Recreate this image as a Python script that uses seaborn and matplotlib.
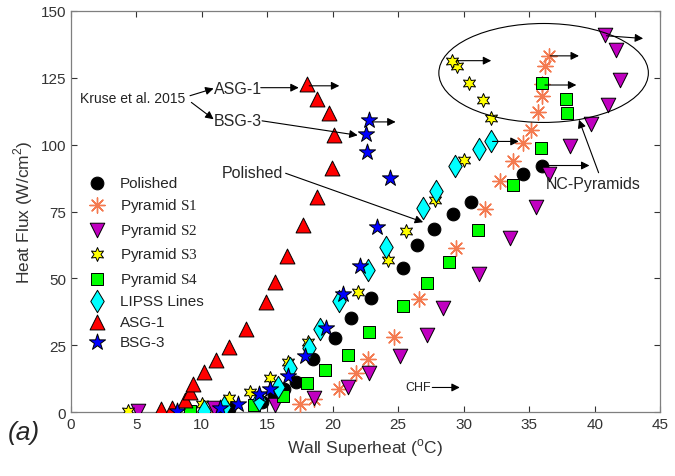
import numpy as np
import matplotlib
matplotlib.use('Agg')
import matplotlib.pyplot as plt
import seaborn as sns
from matplotlib.patches import Ellipse

# data (wall superheat in C, heat flux in W/cm2)
polished_x = [12.1, 14.6, 15.5, 16.3, 17.2, 18.5, 20.2, 21.4, 22.9, 25.4, 26.45, 27.75, 29.16, 30.56, 34.5, 36.0]
polished_y = [1.1, 3.6, 6.1, 8.6, 11.1, 19.8, 27.6, 35.2, 42.5, 53.9, 62.5, 68.5, 74.1, 78.4, 89.0, 92.2]

s1_x = [10.9, 17.5, 18.6, 20.5, 21.8, 22.7, 24.7, 26.6, 29.4, 31.6, 32.8, 33.8, 34.5, 35.1, 35.7, 36.0, 36.0, 36.2, 36.5]
s1_y = [0.2, 3.0, 4.9, 8.6, 14.5, 19.8, 27.9, 42.3, 61.4, 75.9, 86.3, 93.8, 100.6, 105.6, 112.3, 118.2, 122.5, 129.3, 133.3]

s2_x = [5.1, 10.9, 15.6, 18.6, 21.2, 22.8, 25.1, 27.2, 28.4, 31.2, 33.5, 35.5, 36.5, 38.1, 39.7, 41.0, 41.9, 41.6, 40.8]
s2_y = [0.3, 1.4, 2.8, 5.3, 9.2, 14.5, 20.8, 28.9, 38.8, 51.6, 65.0, 76.6, 89.0, 99.5, 107.6, 114.7, 124.0, 135.3, 141.1]

s3_x = [4.4, 10.0, 12.1, 13.7, 15.2, 16.55, 18.1, 21.9, 24.2, 25.6, 27.8, 30.0, 32.1, 31.5, 30.4, 29.5, 29.1]
s3_y = [0.5, 3.0, 5.1, 7.6, 12.6, 18.8, 26.1, 45.0, 56.9, 67.8, 79.4, 94.4, 110.1, 116.7, 122.9, 129.3, 131.4]

s4_x = [9.1, 14.0, 16.2, 18.0, 19.4, 21.2, 22.8, 25.4, 27.2, 28.9, 31.1, 33.8, 35.9, 37.9, 37.8, 36.0]
s4_y = [0.5, 2.8, 5.9, 10.8, 15.6, 21.4, 30.1, 39.5, 48.3, 56.2, 68.1, 84.9, 98.7, 112.0, 117.0, 122.9]

lipss_x = [10.2, 11.7, 14.4, 15.8, 16.7, 18.2, 19.0, 20.5, 22.7, 24.1, 26.9, 27.9, 29.3, 31.2, 32.1]
lipss_y = [0.5, 2.0, 4.5, 9.2, 16.4, 23.8, 31.0, 41.5, 53.2, 61.6, 76.2, 82.6, 92.0, 98.2, 101.5]

asg_x = [6.9, 7.7, 8.7, 9.1, 9.35, 10.2, 11.1, 12.1, 13.4, 14.9, 15.6, 16.5, 17.7, 18.8, 19.96, 20.1, 19.7, 18.8, 18.0]
asg_y = [1.1, 1.5, 4.6, 7.4, 10.5, 15.0, 19.6, 24.3, 31.0, 41.0, 48.7, 58.5, 69.8, 80.6, 91.3, 103.6, 111.8, 117.2, 122.5]

bsg_x = [8.1, 11.4, 12.8, 14.4, 15.2, 16.55, 17.9, 19.5, 20.8, 22.1, 23.35, 24.4, 22.6, 22.5, 22.8]
bsg_y = [0.3, 1.7, 3.2, 6.9, 8.7, 13.4, 21.1, 31.4, 44.2, 54.7, 69.3, 87.4, 97.2, 104.0, 109.3]

sns.set_style('ticks')
plt.rcParams['font.family'] = ['Liberation Sans', 'DejaVu Sans']
plt.rcParams['mathtext.fontset'] = 'custom'
plt.rcParams['mathtext.rm'] = 'Liberation Serif'
plt.rcParams['mathtext.sf'] = 'Liberation Sans'

fig = plt.figure(figsize=(6.75, 4.77), dpi=100)
ax = fig.add_axes([0.105, 0.134, 0.873, 0.841])

series = [
    (polished_x, polished_y, 'Polished', 'o', 'black', 85),
    (s1_x, s1_y, r'Pyramid $\mathrm{S1}$', (8, 2, 0), '#F47A50', 120),
    (s2_x, s2_y, r'Pyramid $\mathrm{S2}$', 'v', '#C000C0', 110),
    (s3_x, s3_y, r'Pyramid $\mathrm{S3}$', (6, 1, 0), '#FFFF00', 100),
    (s4_x, s4_y, r'Pyramid $\mathrm{S4}$', 's', '#00FF00', 65),
    (lipss_x, lipss_y, 'LIPSS Lines', 'd', '#00FFFF', 130),
    (asg_x, asg_y, 'ASG-1', '^', '#FF0000', 115),
    (bsg_x, bsg_y, 'BSG-3', '*', '#0000FF', 150),
]

for xs, ys, lab, mk, col, sz in series:
    if mk == (8, 2, 0):
        sns.scatterplot(x=xs, y=ys, ax=ax, marker=mk, color=col, s=sz, linewidth=1.0, label=lab, zorder=3)
    else:
        sns.scatterplot(x=xs, y=ys, ax=ax, marker=mk, color=col, s=sz, edgecolor='black', linewidth=0.7, label=lab, zorder=3)

ax.set_xlim(0, 45)
ax.set_ylim(0, 150)
ax.set_xticks(np.arange(0, 46, 5))
ax.set_yticks(np.arange(0, 151, 25))
ax.tick_params(direction='in', top=True, right=True, labelsize=11, colors='#333333', length=4)
for sp in ax.spines.values():
    sp.set_visible(True)
    sp.set_color('#7f7f7f')
    sp.set_linewidth(0.9)
ax.set_xlabel(r'Wall Superheat ($^{\mathsf{o}}$C)', fontsize=12.5, color='#333333')
ax.set_ylabel(r'Heat Flux (W/cm$^{\mathsf{2}}$)', fontsize=12.5, color='#333333')

ax.legend(loc='upper left', bbox_to_anchor=(0.0, 0.615), frameon=False, fontsize=11,
          handletextpad=0.5, labelspacing=0.42, borderaxespad=0.3)

arr = dict(arrowstyle='-|>', color='black', lw=0.8, mutation_scale=12, shrinkA=0, shrinkB=0)

def arrow(x0, y0, x1, y1):
    ax.annotate('', xy=(x1, y1), xytext=(x0, y0), arrowprops=arr, zorder=4)

# literature annotations
ax.text(0.7, 117.5, 'Kruse et al. 2015', fontsize=10, va='center', color='#222222')
arrow(9.1, 118.3, 10.9, 121.0)
arrow(9.2, 115.8, 10.9, 109.5)
ax.text(10.9, 121.0, 'ASG-1', fontsize=11.5, va='center')
ax.text(10.9, 108.9, 'BSG-3', fontsize=11.5, va='center')
arrow(14.5, 121.3, 17.4, 121.3)
arrow(18.2, 122.0, 20.5, 122.0)
arrow(14.6, 108.9, 21.9, 103.5)
arrow(23.0, 108.5, 24.8, 108.5)

ax.text(11.5, 89.6, 'Polished', fontsize=11.5, va='center')
arrow(16.4, 89.3, 26.9, 71.0)

# CHF arrows
arrow(29.5, 131.4, 32.1, 131.4)
arrow(36.6, 133.2, 38.8, 133.2)
arrow(36.2, 122.3, 38.6, 122.3)
arrow(40.9, 140.7, 43.7, 139.7)
arrow(32.2, 101.2, 34.2, 101.2)
arrow(36.2, 92.2, 39.6, 92.2)

ax.text(26.5, 9.2, 'CHF', fontsize=9, va='center', ha='center')
arrow(27.6, 9.2, 29.7, 9.2)

ax.add_patch(Ellipse((36.1, 126.8), 16.0, 37.0, fill=False, edgecolor='black', lw=0.8, zorder=4))
ax.text(39.85, 85.3, 'NC-Pyramids', fontsize=11.5, va='center', ha='center')
arrow(40.3, 89.5, 38.8, 109.3)

fig.text(0.012, 0.092, '(a)', fontsize=19, style='italic', va='center')

fig.savefig('out.png', dpi=100)
